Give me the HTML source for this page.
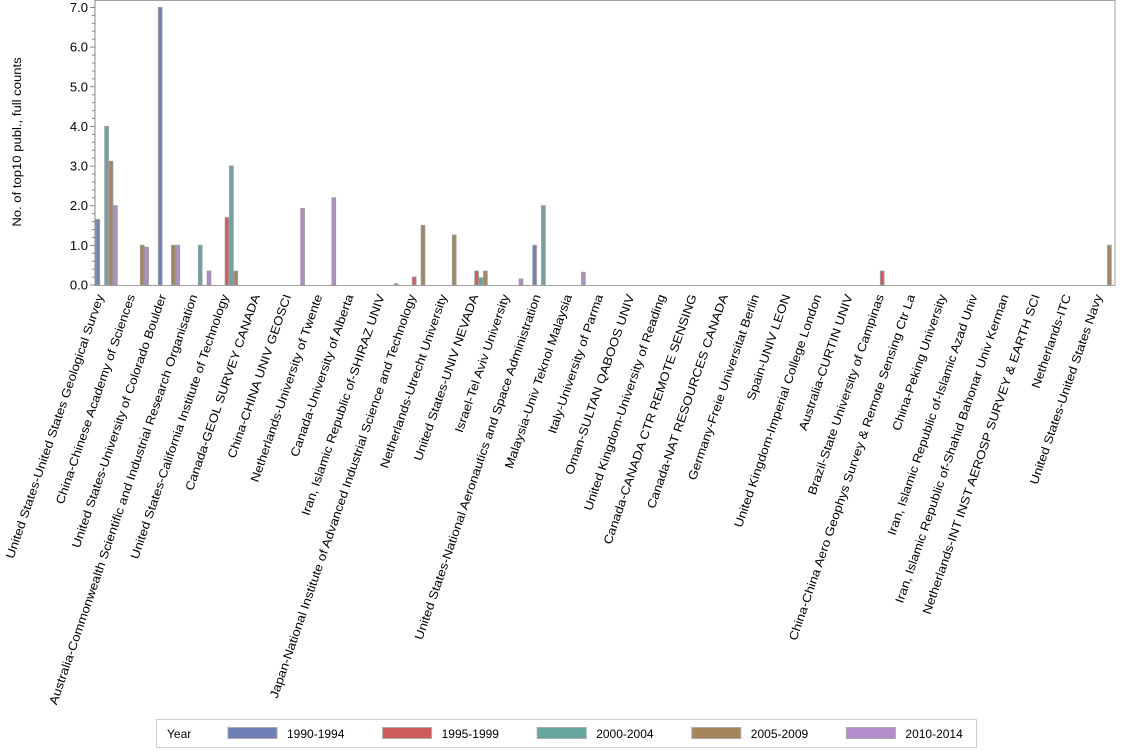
<!DOCTYPE html>
<html><head><meta charset="utf-8"><style>
html,body{margin:0;padding:0;background:#fff;}
svg{display:block;font-family:"Liberation Sans",Arial,sans-serif;}
</style></head><body>
<svg width="1134" height="756" viewBox="0 0 1134 756" xmlns="http://www.w3.org/2000/svg">
<rect x="95" y="0.5" width="1020" height="285" fill="#fff" stroke="#a0a0a0" stroke-width="1"/>
<path stroke="#888" fill="none" d="M95 0V285
M90 285H95M92 277.07H95M92 269.14H95M92 261.22H95M92 253.29H95
M90 245.36H95M92 237.43H95M92 229.5H95M92 221.58H95M92 213.65H95
M90 205.72H95M92 197.79H95M92 189.86H95M92 181.94H95M92 174.01H95
M90 166.08H95M92 158.15H95M92 150.22H95M92 142.3H95M92 134.37H95
M90 126.44H95M92 118.51H95M92 110.58H95M92 102.66H95M92 94.73H95
M90 86.8H95M92 78.87H95M92 70.94H95M92 63.02H95M92 55.09H95
M90 47.16H95M92 39.23H95M92 31.3H95M92 23.38H95M92 15.45H95M90 7.52H95"/>
<g font-size="13" text-anchor="end">
<text x="88" y="289.5">0.0</text><text x="88" y="249.9">1.0</text><text x="88" y="210.2">2.0</text><text x="88" y="170.6">3.0</text><text x="88" y="130.9">4.0</text><text x="88" y="91.3">5.0</text><text x="88" y="51.7">6.0</text><text x="88" y="12">7.0</text>
</g>
<g stroke="#999" stroke-width="1">
<rect x="96" y="219.6" width="3.6" height="65.4" fill="#6f7fb5"/>
<rect x="104.8" y="126.44" width="3.6" height="158.56" fill="#66a5a0"/>
<rect x="109.2" y="161.32" width="3.6" height="123.68" fill="#a6855a"/>
<rect x="113.6" y="205.72" width="3.6" height="79.28" fill="#b48bcb"/>
<rect x="140.4" y="245.36" width="3.6" height="39.64" fill="#a6855a"/>
<rect x="144.8" y="247.34" width="3.6" height="37.66" fill="#b48bcb"/>
<rect x="158.4" y="7.52" width="3.6" height="277.48" fill="#6f7fb5"/>
<rect x="171.6" y="245.36" width="3.6" height="39.64" fill="#a6855a"/>
<rect x="176" y="245.36" width="3.6" height="39.64" fill="#b48bcb"/>
<rect x="198.4" y="245.36" width="3.6" height="39.64" fill="#66a5a0"/>
<rect x="207.2" y="271.13" width="3.6" height="13.87" fill="#b48bcb"/>
<rect x="225.2" y="217.61" width="3.6" height="67.39" fill="#d05b5b"/>
<rect x="229.6" y="166.08" width="3.6" height="118.92" fill="#66a5a0"/>
<rect x="234" y="271.13" width="3.6" height="13.87" fill="#a6855a"/>
<rect x="300.8" y="208.5" width="3.6" height="76.5" fill="#b48bcb"/>
<rect x="332" y="197.79" width="3.6" height="87.21" fill="#b48bcb"/>
<rect x="394.4" y="283.8" width="3.6" height="1.2" fill="#b48bcb"/>
<rect x="412.4" y="277.07" width="3.6" height="7.93" fill="#d05b5b"/>
<rect x="421.2" y="225.54" width="3.6" height="59.46" fill="#a6855a"/>
<rect x="452.4" y="235.05" width="3.6" height="49.95" fill="#a6855a"/>
<rect x="474.8" y="271.13" width="3.6" height="13.87" fill="#d05b5b"/>
<rect x="479.2" y="277.86" width="3.6" height="7.14" fill="#66a5a0"/>
<rect x="483.6" y="271.13" width="3.6" height="13.87" fill="#a6855a"/>
<rect x="519.2" y="279.05" width="3.6" height="5.95" fill="#b48bcb"/>
<rect x="532.8" y="245.36" width="3.6" height="39.64" fill="#6f7fb5"/>
<rect x="541.6" y="205.72" width="3.6" height="79.28" fill="#66a5a0"/>
<rect x="581.6" y="272.32" width="3.6" height="12.68" fill="#b48bcb"/>
<rect x="880.4" y="271.13" width="3.6" height="13.87" fill="#d05b5b"/>
<rect x="1107.6" y="245.36" width="3.6" height="39.64" fill="#a6855a"/>
</g>
<g font-size="12" text-anchor="end">
<text transform="translate(104,296) rotate(-71) scale(1.12,1)">United States-United States Geological Survey</text>
<text transform="translate(135.2,296) rotate(-71) scale(1.12,1)">China-Chinese Academy of Sciences</text>
<text transform="translate(166.4,296) rotate(-71) scale(1.12,1)">United States-University of Colorado Boulder</text>
<text transform="translate(197.6,296) rotate(-71) scale(1.12,1)">Australia-Commonwealth Scientific and Industrial Research Organisation</text>
<text transform="translate(228.8,296) rotate(-71) scale(1.12,1)">United States-California Institute of Technology</text>
<text transform="translate(260,296) rotate(-71) scale(1.12,1)">Canada-GEOL SURVEY CANADA</text>
<text transform="translate(291.2,296) rotate(-71) scale(1.12,1)">China-CHINA UNIV GEOSCI</text>
<text transform="translate(322.4,296) rotate(-71) scale(1.12,1)">Netherlands-University of Twente</text>
<text transform="translate(353.6,296) rotate(-71) scale(1.12,1)">Canada-University of Alberta</text>
<text transform="translate(384.8,296) rotate(-71) scale(1.12,1)">Iran, Islamic Republic of-SHIRAZ UNIV</text>
<text transform="translate(416,296) rotate(-71) scale(1.12,1)">Japan-National Institute of Advanced Industrial Science and Technology</text>
<text transform="translate(447.2,296) rotate(-71) scale(1.12,1)">Netherlands-Utrecht University</text>
<text transform="translate(478.4,296) rotate(-71) scale(1.12,1)">United States-UNIV NEVADA</text>
<text transform="translate(509.6,296) rotate(-71) scale(1.12,1)">Israel-Tel Aviv University</text>
<text transform="translate(540.8,296) rotate(-71) scale(1.12,1)">United States-National Aeronautics and Space Administration</text>
<text transform="translate(572,296) rotate(-71) scale(1.12,1)">Malaysia-Univ Teknol Malaysia</text>
<text transform="translate(603.2,296) rotate(-71) scale(1.12,1)">Italy-University of Parma</text>
<text transform="translate(634.4,296) rotate(-71) scale(1.12,1)">Oman-SULTAN QABOOS UNIV</text>
<text transform="translate(665.6,296) rotate(-71) scale(1.12,1)">United Kingdom-University of Reading</text>
<text transform="translate(696.8,296) rotate(-71) scale(1.12,1)">Canada-CANADA CTR REMOTE SENSING</text>
<text transform="translate(728,296) rotate(-71) scale(1.12,1)">Canada-NAT RESOURCES CANADA</text>
<text transform="translate(759.2,296) rotate(-71) scale(1.12,1)">Germany-Freie Universitat Berlin</text>
<text transform="translate(790.4,296) rotate(-71) scale(1.12,1)">Spain-UNIV LEON</text>
<text transform="translate(821.6,296) rotate(-71) scale(1.12,1)">United Kingdom-Imperial College London</text>
<text transform="translate(852.8,296) rotate(-71) scale(1.12,1)">Australia-CURTIN UNIV</text>
<text transform="translate(884,296) rotate(-71) scale(1.12,1)">Brazil-State University of Campinas</text>
<text transform="translate(915.2,296) rotate(-71) scale(1.12,1)">China-China Aero Geophys Survey &amp; Remote Sensing Ctr La</text>
<text transform="translate(946.4,296) rotate(-71) scale(1.12,1)">China-Peking University</text>
<text transform="translate(977.6,296) rotate(-71) scale(1.12,1)">Iran, Islamic Republic of-Islamic Azad Univ</text>
<text transform="translate(1008.8,296) rotate(-71) scale(1.12,1)">Iran, Islamic Republic of-Shahid Bahonar Univ Kerman</text>
<text transform="translate(1040,296) rotate(-71) scale(1.12,1)">Netherlands-INT INST AEROSP SURVEY &amp; EARTH SCI</text>
<text transform="translate(1071.2,296) rotate(-71) scale(1.12,1)">Netherlands-ITC</text>
<text transform="translate(1102.4,296) rotate(-71) scale(1.12,1)">United States-United States Navy</text>
</g>
<text transform="translate(21,142) rotate(-90) scale(1.09,1)" text-anchor="middle" font-size="12">No. of top10 publ., full counts</text>
<rect x="156.5" y="719.5" width="820" height="28" fill="#fff" stroke="#cfcfcf"/>
<g font-size="12">
<text x="167" y="738">Year</text>
<rect x="228" y="727.5" width="49" height="11" fill="#6f7fb5" stroke="#aaa"/><text x="287" y="738">1990-1994</text>
<rect x="382.6" y="727.5" width="49" height="11" fill="#d05b5b" stroke="#aaa"/><text x="441.6" y="738">1995-1999</text>
<rect x="537.2" y="727.5" width="49" height="11" fill="#66a5a0" stroke="#aaa"/><text x="596.2" y="738">2000-2004</text>
<rect x="691.8" y="727.5" width="49" height="11" fill="#a6855a" stroke="#aaa"/><text x="750.8" y="738">2005-2009</text>
<rect x="846.4" y="727.5" width="49" height="11" fill="#b48bcb" stroke="#aaa"/><text x="905.4" y="738">2010-2014</text>
</g>
</svg>
</body></html>
